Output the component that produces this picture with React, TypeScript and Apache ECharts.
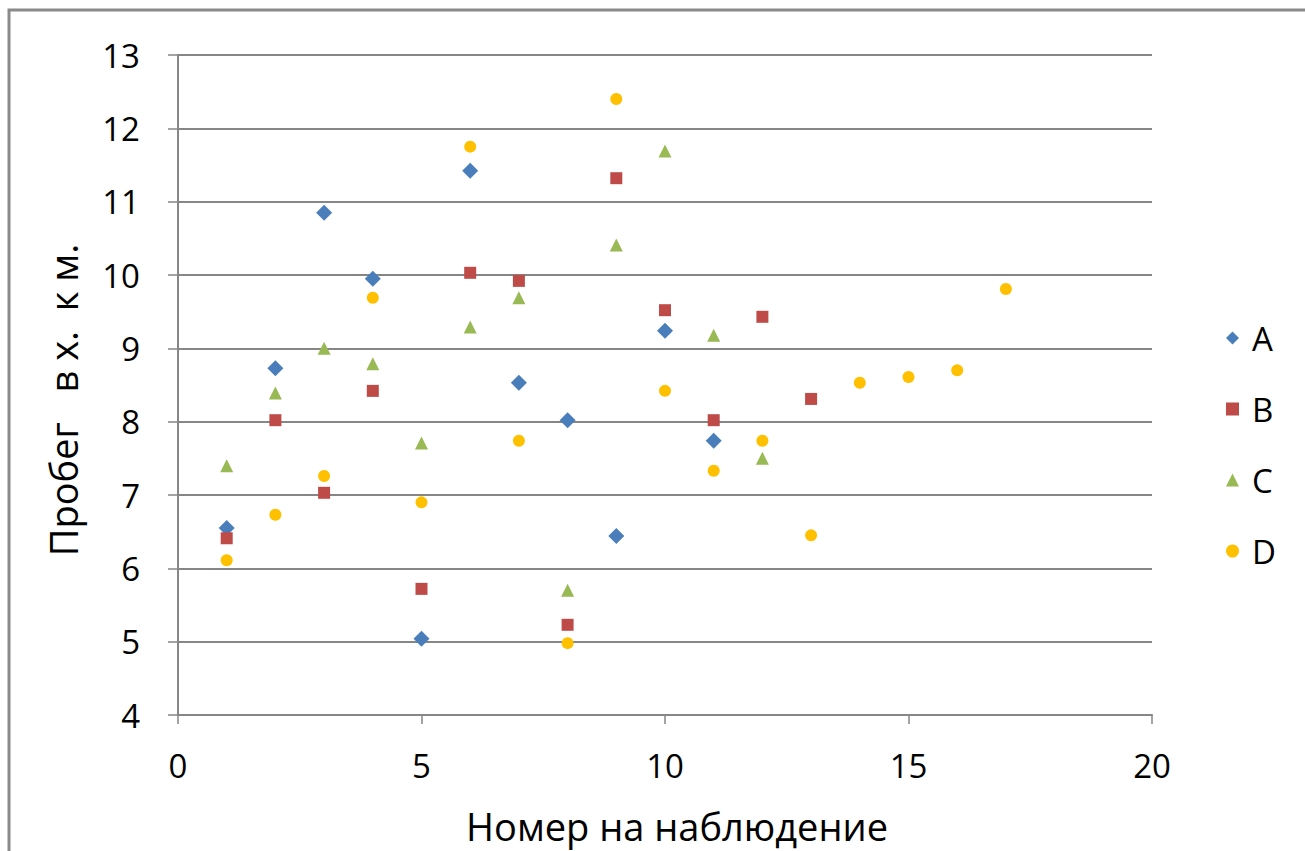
import React, { useEffect, useRef } from "react";
import * as echarts from "echarts";

const seriesNames = ["A", "B", "C", "D"];
const colors = ["#4A7EBB", "#BE4B48", "#98B954", "#FFC000"];
const symbols = ["diamond", "rect", "triangle", "circle"];
const symbolSizes = [16, 12, 13, 12];

const valuesA = [6.55, 8.73, 10.85, 9.95, 5.04, 11.42, 8.53, 8.02, 6.44, 9.24, 7.74];
const valuesB = [6.41, 8.02, 7.03, 8.42, 5.72, 10.03, 9.92, 5.23, 11.32, 9.52, 8.02, 9.43, 8.31];
const valuesC = [7.4, 8.39, 9.0, 8.79, 7.71, 9.29, 9.69, 5.7, 10.41, 11.69, 9.18, 7.5];
const valuesD = [6.11, 6.73, 7.26, 9.69, 6.9, 11.75, 7.74, 4.98, 12.4, 8.42, 7.33, 7.74, 6.45, 8.53, 8.61, 8.7, 9.81];

const allValues = [valuesA, valuesB, valuesC, valuesD];

const xTicks = [0, 5, 10, 15, 20];
const yTicks = [4, 5, 6, 7, 8, 9, 10, 11, 12, 13];

const xTitle = "Номер на наблюдение";
const yTitle = "Пробег   в х.  к м.";

const FONT = "'Open Sans', sans-serif";

export default function App() {
  const ref = useRef<HTMLDivElement>(null);
  useEffect(() => {
    if (!ref.current) return;
    const chart = echarts.init(ref.current, undefined, { renderer: "svg" });
    const series = allValues.map((vals, i) => ({
      name: seriesNames[i],
      type: "scatter",
      symbol: symbols[i],
      symbolSize: symbolSizes[i],
      itemStyle: { color: colors[i], opacity: 1 },
      data: vals.map((v, j) => [j + 1, v]),
    }));
    chart.setOption({
      animation: false,
      backgroundColor: "#ffffff",
      textStyle: { fontFamily: FONT },
      graphic: [
        {
          type: "rect",
          shape: { x: 9, y: 10, width: 1400, height: 1000 },
          style: { fill: "none", stroke: "#8a8a8a", lineWidth: 3 },
          silent: true,
        },
      ],
      grid: { left: 178, right: 153, top: 55, bottom: 136, containLabel: false },
      legend: {
        orient: "vertical",
        left: 1221,
        top: 313,
        itemWidth: 13,
        itemHeight: 13,
        itemGap: 31,
        data: seriesNames.map((n, i) => ({ name: n, icon: symbols[i] })),
        textStyle: { fontSize: 33, color: "#000", fontFamily: FONT, lineHeight: 40, padding: [0, 0, 0, 8] },
      },
      xAxis: {
        type: "value",
        min: xTicks[0],
        max: xTicks[xTicks.length - 1],
        interval: 5,
        name: xTitle,
        nameLocation: "middle",
        nameGap: 92,
        nameTextStyle: { fontSize: 38, color: "#000", fontFamily: FONT, padding: [0, 0, 0, 24] },
        axisLine: { show: true, onZero: false, lineStyle: { color: "#868686", width: 2 } },
        axisTick: { show: true, length: 9, lineStyle: { color: "#868686", width: 1.5 } },
        axisLabel: { fontSize: 33, color: "#000", margin: 34, fontFamily: FONT },
        splitLine: { show: false },
      },
      yAxis: {
        type: "value",
        min: yTicks[0],
        max: yTicks[yTicks.length - 1],
        interval: 1,
        name: yTitle,
        nameLocation: "middle",
        nameGap: 96,
        nameRotate: 90,
        nameTextStyle: { fontSize: 38, color: "#000", fontFamily: FONT, padding: [0, 30, 0, 0] },
        axisLine: { show: true, onZero: false, lineStyle: { color: "#868686", width: 2 } },
        axisTick: { show: true, length: 10, lineStyle: { color: "#868686", width: 1.5 } },
        axisLabel: { fontSize: 33, color: "#000", margin: 38, fontFamily: FONT },
        splitLine: { show: true, lineStyle: { color: "#868686", width: 2 } },
      },
      series,
    });
    return () => chart.dispose();
  }, []);
  return (
    <div
      ref={ref}
      style={{ position: "absolute", left: 0, top: 0, width: 1305, height: 851 }}
    />
  );
}
